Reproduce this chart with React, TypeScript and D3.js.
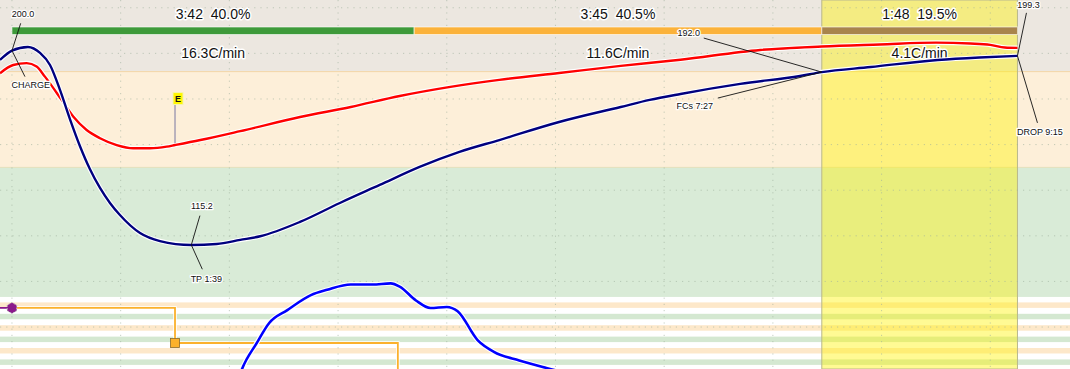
import * as d3 from 'd3'
import React, { useEffect } from 'react'

const W = 1070
const H = 369

// key roast events, seconds from charge
const eventNames = ['CHARGE', 'TP', 'DRY', 'FCs', 'DROP']
const eventTimes = [0, 99, 222, 447, 555]
const eventTemps = [200.0, 115.2, 150.0, 192.0, 199.3]

// bean temperature (BT)
const btTime = [-6.6, 0, 8.8, 15.5, 21, 26.5, 32, 37.5, 43, 48.6, 54.1, 59.6, 70.7, 81.7, 99, 113, 126, 137, 159, 181, 203, 225, 247, 269, 302, 336, 352, 369, 402, 435, 447, 474, 511, 534, 555]
const btTemp = [197.1, 201.2, 202.8, 200.2, 194.9, 184.0, 171.2, 159.4, 149.3, 141.0, 134.4, 129.1, 121.2, 117.7, 116.0, 116.4, 118.2, 119.8, 126.1, 134.4, 142.3, 150.2, 156.8, 162.0, 169.9, 176.5, 179.6, 182.2, 186.6, 190.1, 191.8, 194.0, 197.1, 198.2, 198.9]

// environment temperature (ET)
const etTime = [-6.6, 0.7, 8.1, 13.6, 18.2, 27.4, 33.8, 41.2, 48.6, 57.8, 66.9, 76.2, 85.4, 90, 104, 126, 159, 187, 214, 242, 269, 302, 336, 369, 413, 447, 479, 510, 529, 540, 548, 555]
const etTemp = [191.3, 194.9, 195.7, 194.2, 189.8, 179.6, 172.3, 166.4, 162.8, 159.8, 158.4, 158.4, 159.1, 159.8, 162.0, 165.9, 172.1, 176.5, 181.3, 185.3, 188.4, 191.4, 194.5, 197.2, 201.5, 203.0, 203.9, 204.7, 204.3, 203.7, 202.6, 202.4]

// BT rate of rise, C/min
const rorTime = [99, 120, 127, 135, 142, 152, 165, 174, 187, 199, 209, 214, 223, 231, 240, 246, 257, 266, 280, 295, 314, 340]
const rorValue = [0, 10.5, 14.3, 16.7, 18.6, 19.8, 21.2, 21.7, 22.2, 22.2, 22.3, 22.0, 20.7, 20.0, 20.1, 19.7, 17.0, 15.9, 15.1, 14.4, 13.6, 12.8]

// mean RoR per phase
const phaseRoR = ['16.3', '11.6', '4.1']

// phase background limits (C): drying, maillard, finishing
const bandLimits = [93.2, 150, 192, 240]
// event bar stripes (top temperature of each)
const eventBarTops = [90.8, 85.8, 80.8, 75.8, 70.8, 65.8]

// step events
const burnerTimes = [0, 90, 213, 400]
const burnerLevels = [88.4, 73.0, 57.6, 57.6]
const markerTime = 90
const markerLabel = 'E'

const fmt = (s: number) => `${Math.floor(s / 60)}:${String(Math.round(s % 60)).padStart(2, '0')}`

const interp = (ts: number[], vs: number[], t: number) => {
  const i = Math.min(Math.max(d3.bisectRight(ts, t), 1), ts.length - 1)
  const k = (t - ts[i - 1]) / (ts[i] - ts[i - 1])
  return vs[i - 1] + k * (vs[i] - vs[i - 1])
}

const App: React.FC = () => {
  useEffect(() => {
    document.body.style.margin = '0'
  }, [])

  const x = d3.scaleLinear().domain([-6.6, 584]).range([0, W])
  const y = d3.scaleLinear().domain([61.6, 223.4]).range([H, 0])
  const yD = d3.scaleLinear().domain([0, 20]).range([522, 308])

  const tempLine = d3.line<[number, number]>()
    .x(d => x(d[0]))
    .y(d => y(d[1]))
    .curve(d3.curveMonotoneX)
  const rorLine = d3.line<[number, number]>()
    .x(d => x(d[0]))
    .y(d => yD(d[1]))
    .curve(d3.curveMonotoneX)

  const bt = btTime.map((t, i) => [t, btTemp[i]] as [number, number])
  const et = etTime.map((t, i) => [t, etTemp[i]] as [number, number])
  const ror = rorTime.map((t, i) => [t, rorValue[i]] as [number, number])

  const charge = eventTimes[0]
  const dry = eventTimes[2]
  const fcs = eventTimes[3]
  const drop = eventTimes[4]
  const total = drop - charge
  const phases = [
    { start: charge, end: dry, color: '#3e9a3a' },
    { start: dry, end: fcs, color: '#fbb23a' },
    { start: fcs, end: drop, color: '#a8844c' },
  ]

  const bandColors = ['#d9ebd7', '#fdefd9', '#ece7e0']
  const stripeColors = ['#fde8ca', '#d4e8d1']

  // burner step path
  const stepPts: [number, number][] = burnerTimes.map((t, i) => [x(t), y(burnerLevels[i])])
  const stepPath = d3.line().curve(d3.curveStepAfter)(stepPts) || ''

  const hex = (cx: number, cy: number, r: number) =>
    d3.range(6).map(i => {
      const a = Math.PI / 6 + (i * Math.PI) / 3
      return `${cx + r * Math.cos(a)},${cy + r * Math.sin(a)}`
    }).join(' ')

  // annotation layout: offsets of labels (px) from the curve point
  const annot = [
    { idx: 0, top: [11, -37], topEnd: [8.7, -27.3], bot: [18.7, 34], botEnd: [13, 26] },
    { idx: 1, top: [10.5, -39], topEnd: [8.6, -29.3], bot: [15, 33.7], botEnd: [11, 24.3] },
    { idx: 3, top: [-133, -39], topEnd: [-118, -34], bot: [-127, 34], botEnd: [-104, 26] },
    { idx: 4, top: [11, -51], topEnd: [9, -43], bot: [22.5, 76], botEnd: [20, 67] },
  ]

  const halo = { paintOrder: 'stroke', stroke: '#ffffff', strokeLinejoin: 'round' } as React.CSSProperties
  const mx = x(markerTime)
  const my = y(interp(etTime, etTemp, markerTime))

  return (
    <svg width={W} height={H} style={{ position: 'absolute', left: 0, top: 0, display: 'block' }}
      fontFamily="'Liberation Sans', Arial, sans-serif">
      <rect width={W} height={H} fill="#ffffff" />
      {/* phase bands */}
      {bandColors.map((c, i) => (
        <rect key={'b' + i} x={0} width={W} y={y(bandLimits[i + 1])}
          height={y(bandLimits[i]) - y(bandLimits[i + 1])} fill={c} />
      ))}
      <line x1={0} x2={W} y1={y(bandLimits[2])} y2={y(bandLimits[2])} stroke="#f3d6a6" strokeWidth={1} />
      <line x1={0} x2={W} y1={y(bandLimits[1])} y2={y(bandLimits[1])} stroke="#e2e0bc" strokeWidth={1} />
      {/* event bars */}
      {eventBarTops.map((t, i) => (
        <rect key={'s' + i} x={0} width={W} y={y(t)} height={y(t - 2.4) - y(t)} fill={stripeColors[i % 2]} />
      ))}
      {/* development region */}
      <rect x={x(fcs)} width={x(drop) - x(fcs)} y={0} height={H} fill="#fff200" fillOpacity={0.42}
        stroke="#b9b88e" strokeWidth={1} />
      {/* grid */}
      {d3.range(0, 10).map(m => (
        <line key={'gx' + m} x1={x(m * 60)} x2={x(m * 60)} y1={0} y2={H}
          stroke="#9fb09c" strokeOpacity={0.6} strokeDasharray="1.2,5" strokeWidth={1} />
      ))}
      {d3.range(80, 240, 20).map(t => (
        <line key={'gy' + t} x1={0} x2={W} y1={y(t)} y2={y(t)}
          stroke="#9fb09c" strokeOpacity={0.6} strokeDasharray="1.2,5" strokeWidth={1} />
      ))}
      {/* phase bar and labels */}
      {phases.map((p, i) => {
        const cx = (x(p.start) + x(p.end)) / 2
        const dur = p.end - p.start
        return (
          <g key={'p' + i}>
            <rect x={x(p.start)} width={x(p.end) - x(p.start)} y={27} height={7.5} fill={p.color}
              stroke="#ffffff" strokeOpacity={0.6} strokeWidth={1} />
            <text x={cx} y={18.5} textAnchor="middle" fontSize={14} fill="#111" style={{ ...halo, whiteSpace: 'pre' }} strokeWidth={3}>
              {`${fmt(dur)}  ${((dur / total) * 100).toFixed(1)}%`}
            </text>
            <text x={cx} y={58} textAnchor="middle" fontSize={14} fill="#111" style={halo} strokeWidth={3}>
              {`${phaseRoR[i]}C/min`}
            </text>
          </g>
        )
      })}
      {/* step events */}
      <path d={stepPath} fill="none" stroke="#ffffff" strokeWidth={3.5} />
      <path d={stepPath} fill="none" stroke="#fbb12c" strokeWidth={1.8} />
      <line x1={0} x2={x(charge)} y1={y(burnerLevels[0])} y2={y(burnerLevels[0])} stroke="#8b1a8b" strokeWidth={1.8} />
      <polygon points={hex(x(charge), y(burnerLevels[0]), 5.5)} fill="#8b1a8b" stroke="#bbbbbb"
        strokeDasharray="1.5,1.5" strokeWidth={1} />
      <rect x={x(markerTime) - 4.5} y={y(burnerLevels[1]) - 4.5} width={9} height={9} fill="#fbb12c" stroke="#8a6a2a" strokeWidth={0.8} />
      {/* curves */}
      <path d={rorLine(ror) || ''} fill="none" stroke="#ffffff" strokeWidth={4.8} />
      <path d={rorLine(ror) || ''} fill="none" stroke="#0000ff" strokeWidth={2.6} />
      <path d={tempLine(et) || ''} fill="none" stroke="#ffffff" strokeWidth={4.6} />
      <path d={tempLine(et) || ''} fill="none" stroke="#ff0000" strokeWidth={2.4} />
      <path d={tempLine(bt) || ''} fill="none" stroke="#ffffff" strokeWidth={4.6} />
      <path d={tempLine(bt) || ''} fill="none" stroke="#00007f" strokeWidth={2.4} />
      {/* event marker */}
      <line x1={mx} x2={mx} y1={my - 2} y2={my - 41} stroke="#aaa4b6" strokeWidth={1.6} />
      <rect x={mx - 2} y={my - 52.5} width={10} height={12} fill="#fff600" stroke="#f4f4b0" strokeWidth={1} />
      <text x={mx + 3} y={my - 43} textAnchor="middle" fontSize={9} fontWeight="bold" fill="#111">{markerLabel}</text>
      {/* annotations */}
      {annot.map(a => {
        const t = eventTimes[a.idx]
        const px = x(t)
        const py = y(interp(btTime, btTemp, t))
        const bottom = a.idx === 0 ? eventNames[a.idx] : `${eventNames[a.idx]} ${fmt(t)}`
        return (
          <g key={'a' + a.idx}>
            <line x1={px} y1={py} x2={px + a.topEnd[0]} y2={py + a.topEnd[1]} stroke="#111" strokeWidth={0.9} />
            <line x1={px} y1={py} x2={px + a.botEnd[0]} y2={py + a.botEnd[1]} stroke="#111" strokeWidth={0.9} />
            <text x={px + a.top[0]} y={py + a.top[1] + 3.2} textAnchor="middle" fontSize={9} fill="#111" style={halo} strokeWidth={2.5}>
              {eventTemps[a.idx].toFixed(1)}
            </text>
            <text x={px + a.bot[0]} y={py + a.bot[1] + 3.2} textAnchor="middle" fontSize={9} fill="#111" style={halo} strokeWidth={2.5}>
              {bottom}
            </text>
          </g>
        )
      })}
    </svg>
  )
}

export default App
